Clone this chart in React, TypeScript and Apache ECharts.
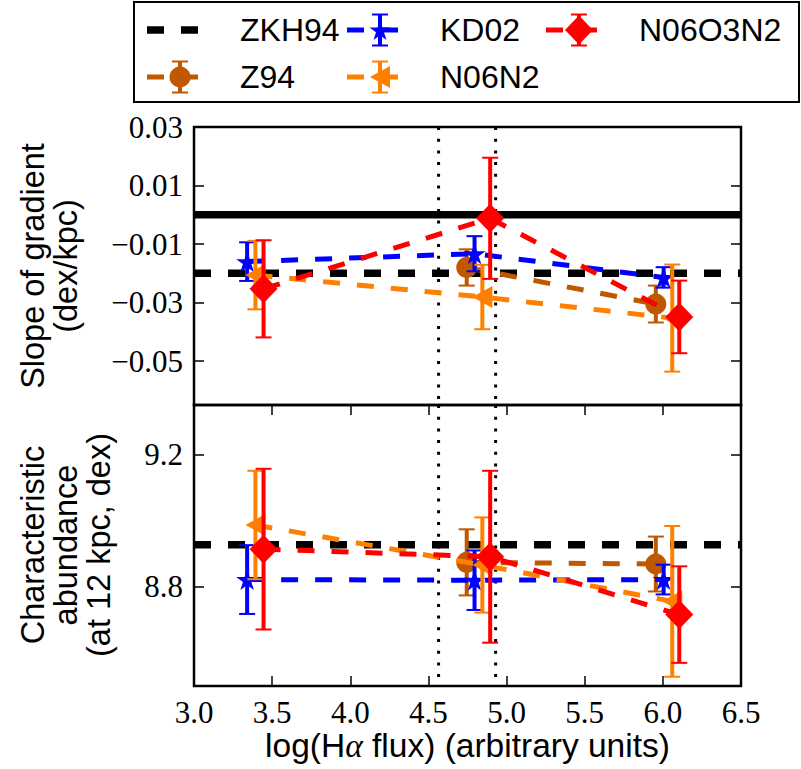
import React, { useEffect, useRef } from "react";
import * as echarts from "echarts";

// ---------------- data ----------------
const xRange = [3.0, 6.5];
const xTickInterval = 0.5;
const slopeRange = [-0.065, 0.03];
const slopeTickValues = [-0.05, -0.03, -0.01, 0.01, 0.03];
const abundRange = [8.5, 9.35];
const abundTickValues = [8.8, 9.2];
const dividerX = [4.565, 4.93];
const zeroSlope = 0.0;
const zkh94Slope = -0.02;
const zkh94Abund = 8.927;

const z94X = [4.745, 5.955];
const z94Slope = [-0.018, -0.0305];
const z94SlopeErr = [0.0062, 0.0063];
const z94Abund = [8.874, 8.869];
const z94AbundErr = [0.1, 0.083];

const kd02X = [3.34, 4.795, 6.005];
const kd02Slope = [-0.016, -0.0133, -0.0214];
const kd02SlopeErr = [0.0066, 0.006, 0.0035];
const kd02Abund = [8.822, 8.82, 8.822];
const kd02AbundErr = [0.104, 0.09, 0.045];

const n06n2X = [3.393, 4.845, 6.06];
const n06n2Slope = [-0.0206, -0.0281, -0.0353];
const n06n2SlopeErr = [0.0117, 0.011, 0.0183];
const n06n2Abund = [8.987, 8.866, 8.756];
const n06n2AbundErr = [0.164, 0.144, 0.228];

const n06o3n2X = [3.445, 4.895, 6.105];
const n06o3n2Slope = [-0.0253, -0.0012, -0.0349];
const n06o3n2SlopeErr = [0.0166, 0.0207, 0.0124];
const n06o3n2Abund = [8.914, 8.891, 8.716];
const n06o3n2AbundErr = [0.243, 0.26, 0.146];

const legendNames = ["ZKH94", "Z94", "KD02", "N06N2", "N06O3N2"];
const slopeAxisTitle = "Slope of gradient\n(dex/kpc)";
const abundAxisTitle = "Characteristic\nabundance\n(at 12 kpc, dex)";
const xAxisTitle = "log(H{a|α} flux) (arbitrary units)";

// ---------------- styles ----------------
const STAR_PATH =
  "path://M100 0L122.45 69.1L195.1 69.1L136.33 111.8L158.8 180.9L100 138.2L41.2 180.9L63.67 111.8L4.9 69.1L77.55 69.1Z";

const styleMap: Record<string, any> = {
  ZKH94: { color: "#000000" },
  Z94: { color: "#C05800", symbol: "circle", size: [21, 21], rotate: 0 },
  KD02: { color: "#0000FF", symbol: STAR_PATH, size: [22, 21], rotate: 0 },
  N06N2: { color: "#FF8000", symbol: "triangle", size: [22, 20], rotate: 90 },
  N06O3N2: { color: "#FF0000", symbol: "diamond", size: [28, 29], rotate: 0 },
};

const methods = [
  { name: "Z94", x: z94X, slope: z94Slope, slopeErr: z94SlopeErr, abund: z94Abund, abundErr: z94AbundErr },
  { name: "KD02", x: kd02X, slope: kd02Slope, slopeErr: kd02SlopeErr, abund: kd02Abund, abundErr: kd02AbundErr },
  { name: "N06N2", x: n06n2X, slope: n06n2Slope, slopeErr: n06n2SlopeErr, abund: n06n2Abund, abundErr: n06n2AbundErr },
  { name: "N06O3N2", x: n06o3n2X, slope: n06o3n2Slope, slopeErr: n06o3n2SlopeErr, abund: n06o3n2Abund, abundErr: n06o3n2AbundErr },
];

const SERIF = '"Liberation Serif", "Times New Roman", serif';
const SANS = '"Liberation Sans", Arial, sans-serif';

function errorBarSeries(name: string, color: string, xs: number[], ys: number[], errs: number[], xi: number, yi: number, z: number) {
  return {
    type: "custom",
    name: name + " err",
    xAxisIndex: xi,
    yAxisIndex: yi,
    z,
    silent: true,
    clip: false,
    encode: { x: 0, y: [1, 2] },
    data: xs.map((x, i) => [x, ys[i] - errs[i], ys[i] + errs[i]]),
    renderItem: (params: any, api: any) => {
      const x = api.value(0);
      const lo = api.coord([x, api.value(1)]);
      const hi = api.coord([x, api.value(2)]);
      const cw = 8;
      return {
        type: "group",
        children: [
          { type: "line", shape: { x1: lo[0], y1: lo[1], x2: hi[0], y2: hi[1] }, style: { stroke: color, lineWidth: 4 } },
          { type: "line", shape: { x1: lo[0] - cw, y1: lo[1], x2: lo[0] + cw, y2: lo[1] }, style: { stroke: color, lineWidth: 2 } },
          { type: "line", shape: { x1: hi[0] - cw, y1: hi[1], x2: hi[0] + cw, y2: hi[1] }, style: { stroke: color, lineWidth: 2 } },
        ],
      };
    },
  };
}

function starPoints(cx: number, cy: number, R: number) {
  const pts: number[][] = [];
  for (let k = 0; k < 10; k++) {
    const r = k % 2 === 0 ? R : R * 0.382;
    const a = (-90 + 36 * k) * (Math.PI / 180);
    pts.push([cx + r * Math.cos(a), cy + r * Math.sin(a)]);
  }
  return pts;
}

function buildLegend() {
  const cols = [147, 347, 546];
  const rows = [30, 77];
  const layout: Record<string, number[]> = {
    ZKH94: [0, 0],
    Z94: [0, 1],
    KD02: [1, 0],
    N06N2: [1, 1],
    N06O3N2: [2, 0],
  };
  const children: any[] = [
    { type: "rect", shape: { x: 134, y: 2, width: 665, height: 100 }, style: { fill: "#fff", stroke: "#000", lineWidth: 2 } },
  ];
  legendNames.forEach((name) => {
    const [c, r] = layout[name];
    const x0 = cols[c];
    const y = rows[r];
    const st = styleMap[name];
    const color = st.color;
    children.push({
      type: "line",
      shape: { x1: x0, y1: y, x2: x0 + 51, y2: y },
      style: { stroke: color, lineWidth: name === "ZKH94" ? 7.5 : 5, lineDash: [17, 17] },
    });
    if (name !== "ZKH94") {
      const mx = x0 + 33;
      children.push({ type: "line", shape: { x1: mx, y1: y - 15.5, x2: mx, y2: y + 15.5 }, style: { stroke: color, lineWidth: 4 } });
      children.push({ type: "line", shape: { x1: mx - 8, y1: y - 15.5, x2: mx + 8, y2: y - 15.5 }, style: { stroke: color, lineWidth: 2 } });
      children.push({ type: "line", shape: { x1: mx - 8, y1: y + 15.5, x2: mx + 8, y2: y + 15.5 }, style: { stroke: color, lineWidth: 2 } });
      if (name === "Z94") {
        children.push({ type: "circle", shape: { cx: mx, cy: y, r: 10.5 }, style: { fill: color } });
      } else if (name === "KD02") {
        children.push({ type: "polygon", shape: { points: starPoints(mx, y + 1, 11) }, style: { fill: color } });
      } else if (name === "N06N2") {
        children.push({ type: "polygon", shape: { points: [[mx - 10, y], [mx + 10, y - 11], [mx + 10, y + 11]] }, style: { fill: color } });
      } else {
        children.push({ type: "polygon", shape: { points: [[mx, y - 14.5], [mx + 14, y], [mx, y + 14.5], [mx - 14, y]] }, style: { fill: color } });
      }
    }
    children.push({
      type: "text",
      x: x0 + 93,
      y,
      style: {
        text: name,
        font: `32px ${SANS}`,
        fill: "#000",
        textAlign: "left",
        textVerticalAlign: "middle",
        align: "left",
        verticalAlign: "middle",
      },
    });
  });
  return { type: "group", children };
}

function fmtSigned(v: number, d: number) {
  const s = Math.abs(v).toFixed(d);
  return v < 0 ? "\u2212" + s : s;
}

export default function App() {
  const ref = useRef<HTMLDivElement>(null);
  useEffect(() => {
    if (!ref.current) return;
    const chart = echarts.init(ref.current, null, { renderer: "svg" });

    const tickStyle = { show: true, inside: true, length: 10, lineStyle: { color: "#000", width: 1.5 } };
    const labelStyle = { fontFamily: SERIF, fontSize: 31, color: "#000" };

    const xBase = {
      type: "value",
      min: xRange[0],
      max: xRange[1],
      interval: xTickInterval,
      axisLine: { show: false },
      splitLine: { show: false },
    };

    const series: any[] = [];
    const panels = [
      { xi: 0, yi: 0, range: slopeRange, key: "slope" },
      { xi: 1, yi: 2, range: abundRange, key: "abund" },
    ];
    panels.forEach((p) => {
      dividerX.forEach((d, k) => {
        series.push({
          type: "line",
          name: "divider" + k,
          xAxisIndex: p.xi,
          yAxisIndex: p.yi,
          z: 1,
          silent: true,
          symbol: "none",
          lineStyle: { color: "#000", width: 3, type: [3, 8.7] },
          data: [
            [d, p.range[1]],
            [d, p.range[0]],
          ],
        });
      });
      if (p.key === "slope") {
        series.push({
          type: "line",
          name: "zero",
          xAxisIndex: p.xi,
          yAxisIndex: p.yi,
          z: 2,
          silent: true,
          symbol: "none",
          lineStyle: { color: "#000", width: 7.5, type: "solid" },
          data: [
            [xRange[0], zeroSlope],
            [xRange[1], zeroSlope],
          ],
        });
      }
      const zv = p.key === "slope" ? zkh94Slope : zkh94Abund;
      series.push({
        type: "line",
        name: "ZKH94",
        xAxisIndex: p.xi,
        yAxisIndex: p.yi,
        z: 2,
        silent: true,
        symbol: "none",
        lineStyle: { color: "#000", width: 7.5, type: [17, 17] },
        data: [
          [xRange[0], zv],
          [xRange[1], zv],
        ],
      });
      methods.forEach((m, i) => {
        const st = styleMap[m.name];
        const ys = p.key === "slope" ? m.slope : m.abund;
        const es = p.key === "slope" ? m.slopeErr : m.abundErr;
        series.push(errorBarSeries(m.name, st.color, m.x, ys, es, p.xi, p.yi, 3 + i));
        series.push({
          type: "line",
          name: m.name,
          xAxisIndex: p.xi,
          yAxisIndex: p.yi,
          z: 3 + i,
          silent: true,
          symbol: st.symbol,
          symbolSize: st.size,
          symbolRotate: st.rotate,
          showSymbol: true,
          itemStyle: { color: st.color, borderWidth: 0 },
          lineStyle: { color: st.color, width: 5, type: [17, 17] },
          data: m.x.map((x, j) => [x, ys[j]]),
        });
      });
    });

    const option: any = {
      animation: false,
      backgroundColor: "#fff",
      grid: [
        { left: 194, top: 127, width: 547, height: 278, show: true, borderColor: "#000", borderWidth: 2.5, backgroundColor: "transparent" },
        { left: 194, top: 405, width: 547, height: 281, show: true, borderColor: "#000", borderWidth: 2.5, backgroundColor: "transparent" },
      ],
      xAxis: [
        { ...xBase, gridIndex: 0, position: "bottom", axisLabel: { show: false }, axisTick: { show: false } },
        {
          ...xBase,
          gridIndex: 1,
          position: "bottom",
          axisLabel: { ...labelStyle, margin: 11, formatter: (v: number) => v.toFixed(1) },
          axisTick: tickStyle,
          name: xAxisTitle,
          nameLocation: "middle",
          nameGap: 41,
          nameTextStyle: {
            fontFamily: SANS,
            fontSize: 33.5,
            color: "#000",
            rich: { a: { fontFamily: SERIF, fontStyle: "italic", fontSize: 33.5, color: "#000" } },
          },
        },
        { ...xBase, gridIndex: 1, position: "top", axisLabel: { show: false }, axisTick: tickStyle },
      ],
      yAxis: [
        {
          type: "value",
          gridIndex: 0,
          position: "left",
          min: slopeRange[0],
          max: slopeRange[1],
          axisLine: { show: false },
          splitLine: { show: false },
          axisLabel: { ...labelStyle, margin: 11, customValues: slopeTickValues, formatter: (v: number) => fmtSigned(v, 2) },
          axisTick: { ...tickStyle, customValues: slopeTickValues },
        },
        {
          type: "value",
          gridIndex: 0,
          position: "right",
          min: slopeRange[0],
          max: slopeRange[1],
          axisLine: { show: false },
          splitLine: { show: false },
          axisLabel: { show: false },
          axisTick: { ...tickStyle, customValues: slopeTickValues },
        },
        {
          type: "value",
          gridIndex: 1,
          position: "left",
          min: abundRange[0],
          max: abundRange[1],
          axisLine: { show: false },
          splitLine: { show: false },
          axisLabel: { ...labelStyle, margin: 11, customValues: abundTickValues, formatter: (v: number) => v.toFixed(1) },
          axisTick: { ...tickStyle, customValues: abundTickValues },
        },
        {
          type: "value",
          gridIndex: 1,
          position: "right",
          min: abundRange[0],
          max: abundRange[1],
          axisLine: { show: false },
          splitLine: { show: false },
          axisLabel: { show: false },
          axisTick: { ...tickStyle, customValues: abundTickValues },
        },
      ],
      graphic: [
        buildLegend(),
        {
          type: "text",
          x: 49.5,
          y: 266,
          rotation: Math.PI / 2,
          style: {
            text: slopeAxisTitle,
            font: `32.5px ${SANS}`,
            lineHeight: 33,
            fill: "#000",
            textAlign: "center",
            textVerticalAlign: "middle",
            align: "center",
            verticalAlign: "middle",
          },
        },
        {
          type: "text",
          x: 66,
          y: 545,
          rotation: Math.PI / 2,
          style: {
            text: abundAxisTitle,
            font: `32.5px ${SANS}`,
            lineHeight: 33,
            fill: "#000",
            textAlign: "center",
            textVerticalAlign: "middle",
            align: "center",
            verticalAlign: "middle",
          },
        },
      ],
      series,
    };
    chart.setOption(option);
    return () => chart.dispose();
  }, []);
  return (
    <div
      ref={ref}
      style={{ position: "absolute", left: 0, top: 0, width: 801, height: 769, background: "#fff" }}
    />
  );
}
